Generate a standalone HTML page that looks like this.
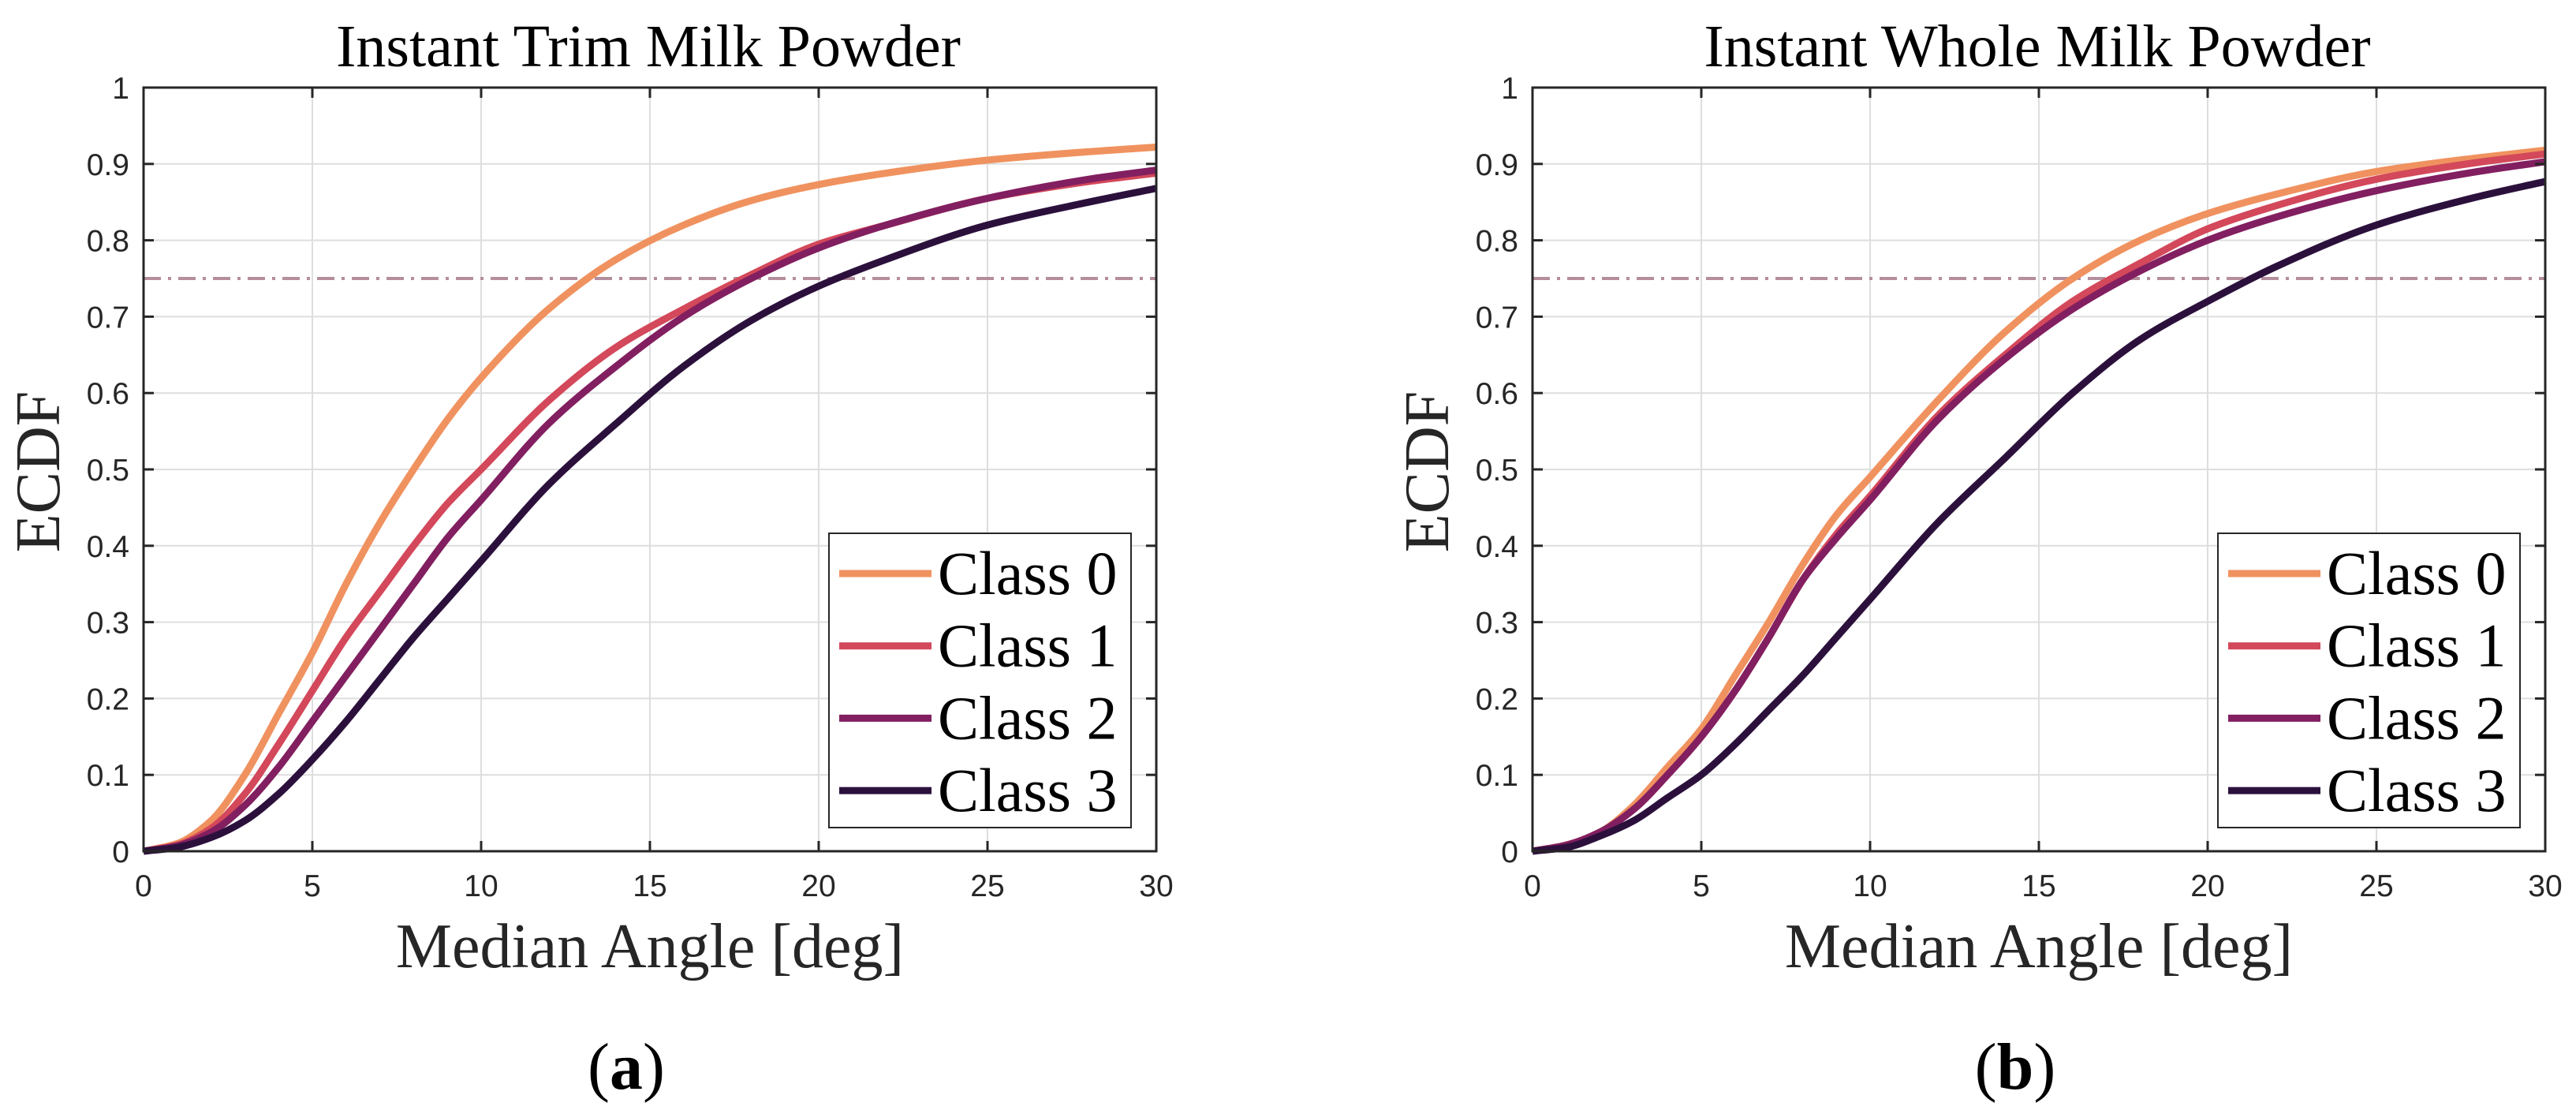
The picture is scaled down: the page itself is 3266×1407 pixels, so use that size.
<!DOCTYPE html>
<html><head><meta charset="utf-8"><style>
html,body{margin:0;padding:0;background:#fff;}
svg{display:block;}
</style></head><body>
<svg id="fig" width="3266" height="1407" viewBox="0 0 3266 1407" xmlns="http://www.w3.org/2000/svg"></svg>
<script>
const xValues = [0,1,2,3,4,5,6,7,8,9,10,12,14,16,18,20,22,25,28,30];
const trimClass0 = [0,0.01,0.04,0.10,0.18,0.26,0.35,0.43,0.50,0.565,0.62,0.71,0.775,0.82,0.852,0.873,0.888,0.905,0.916,0.922];
const trimClass1 = [0,0.008,0.03,0.075,0.14,0.21,0.28,0.34,0.40,0.455,0.50,0.59,0.66,0.71,0.755,0.795,0.82,0.855,0.877,0.888];
const trimClass2 = [0,0.007,0.025,0.06,0.11,0.17,0.23,0.29,0.35,0.41,0.46,0.56,0.635,0.70,0.75,0.79,0.82,0.855,0.88,0.892];
const trimClass3 = [0,0.005,0.018,0.04,0.075,0.12,0.17,0.225,0.28,0.33,0.38,0.48,0.56,0.635,0.695,0.74,0.775,0.82,0.85,0.868];
const wholeClass0 = [0,0.008,0.025,0.06,0.11,0.16,0.23,0.30,0.375,0.44,0.49,0.59,0.68,0.75,0.80,0.835,0.86,0.89,0.908,0.918];
const wholeClass1 = [0,0.008,0.025,0.055,0.10,0.15,0.21,0.28,0.355,0.415,0.465,0.57,0.65,0.72,0.77,0.815,0.845,0.88,0.902,0.913];
const wholeClass2 = [0,0.008,0.025,0.055,0.10,0.15,0.21,0.28,0.355,0.41,0.46,0.565,0.645,0.71,0.76,0.80,0.83,0.865,0.89,0.903];
const wholeClass3 = [0,0.005,0.02,0.04,0.07,0.10,0.14,0.185,0.23,0.28,0.33,0.43,0.515,0.60,0.67,0.72,0.765,0.82,0.857,0.877];
const xTicks = [0,5,10,15,20,25,30];
const yTicks = [0,0.1,0.2,0.3,0.4,0.5,0.6,0.7,0.8,0.9,1];
const yTickLabels = ['0','0.1','0.2','0.3','0.4','0.5','0.6','0.7','0.8','0.9','1'];
const classNames = ['Class 0','Class 1','Class 2','Class 3'];
const thresholdValue = 0.75;
const colors = ['#f0925f','#d3485a','#821f60','#2c103c'];

const NS='http://www.w3.org/2000/svg';
const svg=document.getElementById('fig');
function el(tag,attrs,parent){const e=document.createElementNS(NS,tag);for(const k in attrs)e.setAttribute(k,attrs[k]);(parent||svg).appendChild(e);return e;}

function monotonePath(xs,ys){
  const n=xs.length,h=[],d=[],m=new Array(n);
  for(let i=0;i<n-1;i++){h[i]=xs[i+1]-xs[i];d[i]=(ys[i+1]-ys[i])/h[i];}
  m[0]=d[0];m[n-1]=d[n-2];
  for(let i=1;i<n-1;i++){
    if(d[i-1]*d[i]<=0)m[i]=0;
    else{const w1=2*h[i]+h[i-1],w2=h[i]+2*h[i-1];m[i]=(w1+w2)/(w1/d[i-1]+w2/d[i]);}
  }
  let p='M'+xs[0]+' '+ys[0];
  for(let i=0;i<n-1;i++){
    const c1x=xs[i]+h[i]/3,c1y=ys[i]+m[i]*h[i]/3,c2x=xs[i+1]-h[i]/3,c2y=ys[i+1]-m[i+1]*h[i]/3;
    p+=` C${c1x} ${c1y} ${c2x} ${c2y} ${xs[i+1]} ${ys[i+1]}`;
  }
  return p;
}

function drawPanel(ox, title, series, letter, key){
  const L=ox, R=ox+1284, T=111, B=1079;
  const g=el('g',{});
  
  
  const sx=v=>L+(v/30)*(R-L);
  const sy=v=>B-v*(B-T);
  xTicks.forEach(t=>{const l=el('line',{x1:sx(t),x2:sx(t),y1:T,y2:B,stroke:'#dedede','stroke-width':2},g);
    });
  yTicks.forEach(t=>{const l=el('line',{x1:L,x2:R,y1:sy(t),y2:sy(t),stroke:'#dedede','stroke-width':2},g);
    });
  const th=el('line',{x1:L,x2:R,y1:sy(thresholdValue),y2:sy(thresholdValue),stroke:'#b48e9c','stroke-width':4,'stroke-dasharray':'22 9 4 9'},g);
  
  
  series.forEach((s,i)=>{
    const d=monotonePath(xValues.map(sx),s.map(sy));
    const p=el('path',{d,fill:'none',stroke:colors[i],'stroke-width':9,'stroke-linejoin':'round'},g);
    
    
  });
  const box=el('rect',{x:L,y:T,width:R-L,height:B-T,fill:'none',stroke:'#262626','stroke-width':3},g);
  
  
  xTicks.forEach(t=>{
    el('line',{x1:sx(t),x2:sx(t),y1:B,y2:B-13,stroke:'#262626','stroke-width':3},g);
    el('line',{x1:sx(t),x2:sx(t),y1:T,y2:T+13,stroke:'#262626','stroke-width':3},g);
    const tx=el('text',{x:sx(t),y:1136,'text-anchor':'middle','font-family':'Liberation Sans, Arial, sans-serif','font-size':39,fill:'#262626'},g);
    tx.textContent=t;
    
    
  });
  yTicks.forEach((t,i)=>{
    el('line',{x1:L,x2:L+13,y1:sy(t),y2:sy(t),stroke:'#262626','stroke-width':3},g);
    el('line',{x1:R,x2:R-13,y1:sy(t),y2:sy(t),stroke:'#262626','stroke-width':3},g);
    const tx=el('text',{x:L-18,y:sy(t)+14,'text-anchor':'end','font-family':'Liberation Sans, Arial, sans-serif','font-size':39,fill:'#262626'},g);
    tx.textContent=yTickLabels[i];
    
    
  });
  const tt=el('text',{x:(L+R)/2-2,y:84,'text-anchor':'middle','font-family':'Liberation Serif, Times New Roman, serif','font-size':76,fill:'#000'},g);
  tt.textContent=title;
  
  
  const xl=el('text',{x:(L+R)/2,y:1226,'text-anchor':'middle','font-family':'Liberation Serif, Times New Roman, serif','font-size':80,fill:'#262626'},g);
  xl.textContent='Median Angle [deg]';
  
  
  const yl=el('text',{x:0,y:0,transform:`translate(${L-107},598) rotate(-90)`,'text-anchor':'middle','font-family':'Liberation Serif, Times New Roman, serif','font-size':80,fill:'#262626'},g);
  yl.textContent='ECDF';
  
  
  const lx=L+869;
  const lg=el('g',{},g);
  
  
  el('rect',{x:lx,y:676,width:383,height:373,fill:'#fff',stroke:'#262626','stroke-width':2},lg);
  classNames.forEach((n,i)=>{
    const yy=727+i*91.7;
    const ln=el('line',{x1:lx+13,x2:lx+130,y1:yy,y2:yy,stroke:colors[i],'stroke-width':9},lg);
    
    
    const tx=el('text',{x:lx+138,y:yy+26,'font-family':'Liberation Serif, Times New Roman, serif','font-size':78,fill:'#000'},lg);
    tx.textContent=n;
    
    
  });
  const pl=el('text',{x:(L+R)/2-30,y:1380,'text-anchor':'middle','font-family':'Liberation Serif, Times New Roman, serif','font-size':84,fill:'#000'},g);
  pl.innerHTML='(<tspan font-weight="bold">'+letter+'</tspan>)';
  
  
}
drawPanel(182,'Instant Trim Milk Powder',[trimClass0,trimClass1,trimClass2,trimClass3],'a','trim');
drawPanel(1943,'Instant Whole Milk Powder',[wholeClass0,wholeClass1,wholeClass2,wholeClass3],'b','whole');
</script>
</body></html>
